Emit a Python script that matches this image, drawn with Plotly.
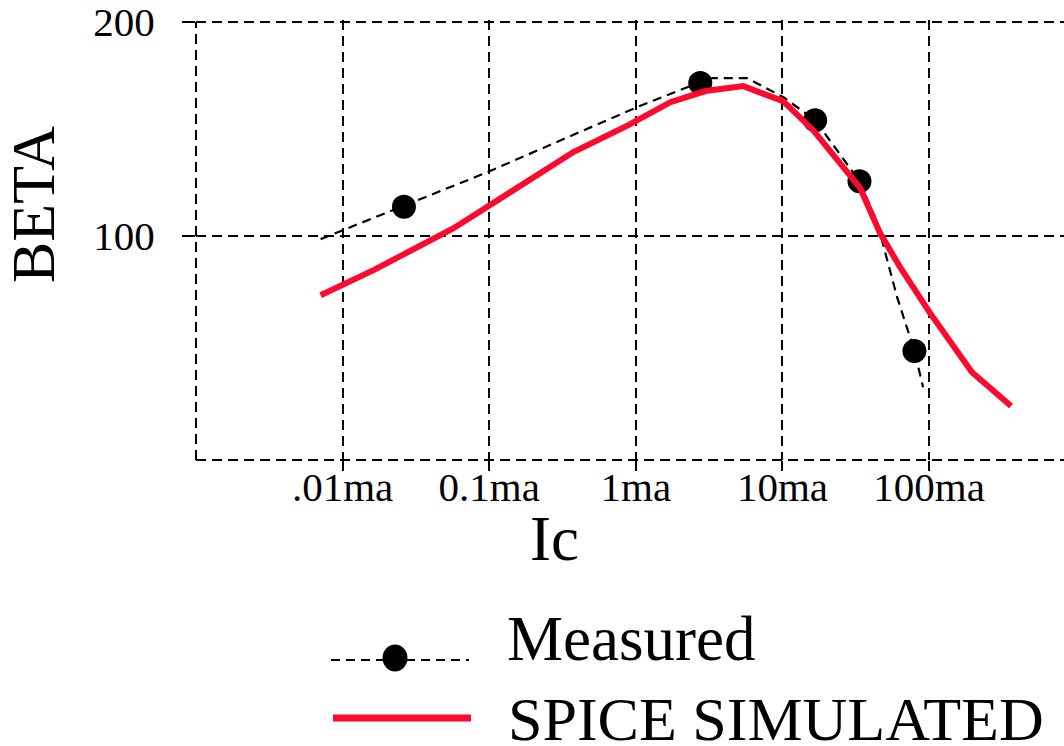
import plotly.graph_objects as go

# ---- data (Ic in mA, BETA) ----
measured_ic = [0.0262, 2.75, 16.7, 33.5, 79.4]
measured_beta = [113.7, 171.6, 154.2, 125.7, 46.3]

fit_ic = [0.00708, 0.0973, 1.02, 2.75, 3.32, 5.75, 10.1, 16.7, 33.5, 44.2, 60.5, 79.4, 91.0]
fit_beta = [98.6, 129.9, 160.3, 172.0, 173.8, 173.8, 165.0, 154.2, 125.7, 106.5, 71.5, 46.3, 29.4]

spice_ic = [0.00708, 0.01625, 0.0571, 0.375, 0.889, 1.72, 2.98, 5.40, 10.1, 16.2,
            33.9, 46.3, 63.4, 101.6, 196, 362]
spice_beta = [72.4, 84.1, 103.7, 139.3, 151.9, 162.6, 167.8, 170.1, 163.1, 149.5,
              122.4, 101.4, 85.5, 64.0, 36.4, 20.6]

x_tickvals = [0.01, 0.1, 1, 10, 100]
x_ticktext = [".01ma", "0.1ma", "1ma", "10ma", "100ma"]
y_tickvals = [100, 200]
y_ticktext = ["100", "200"]
legend_labels = ["Measured", "SPICE SIMULATED"]

RED = "#ff0a2e"
FONT = "Liberation Serif"

W, H = 1064, 746
L, R, T, B = 196, 0, 20, 286
PW, PH = W - L - R, H - T - B


def px(x):
    return (x - L) / PW


def py(y):
    return (H - B - y) / PH


fig = go.Figure()
fig.add_trace(go.Scatter(x=fit_ic, y=fit_beta, mode="lines",
                         line=dict(color="black", width=2.2, dash="9px,6px"),
                         showlegend=False, hoverinfo="skip"))
fig.add_trace(go.Scatter(x=measured_ic, y=measured_beta, mode="markers",
                         marker=dict(color="black", size=24),
                         name=legend_labels[0], showlegend=False))
fig.add_trace(go.Scatter(x=spice_ic, y=spice_beta, mode="lines",
                         line=dict(color=RED, width=6),
                         name=legend_labels[1], showlegend=False))

grid = dict(showgrid=True, gridcolor="black", gridwidth=2, griddash="10px,6px",
            zeroline=False, showline=False, ticks="outside", tickcolor="black",
            tickwidth=2, ticklabeloverflow="allow")

fig.update_xaxes(type="log", range=[-3, 2.92], tickvals=x_tickvals, ticktext=x_ticktext,
                 ticklen=10, ticklabelstandoff=-19,
                 tickfont=dict(family=FONT, size=41, color="black"), **grid)
fig.update_yaxes(range=[-4.61, 201], tickvals=y_tickvals, ticktext=y_ticktext,
                 ticklen=13, ticklabelstandoff=19,
                 tickfont=dict(family=FONT, size=41, color="black"), **grid)

shapes = [
    dict(type="line", xref="paper", yref="paper", x0=0, x1=0, y0=0, y1=py(22),
         line=dict(color="black", width=2, dash="10px,6px"), layer="below"),
    dict(type="line", xref="paper", yref="paper", x0=0, x1=1, y0=0, y1=0,
         line=dict(color="black", width=2, dash="10px,6px"), layer="below"),
    # legend samples
    dict(type="line", xref="paper", yref="paper", x0=px(331), x1=px(469), y0=py(660), y1=py(660),
         line=dict(color="black", width=2.2, dash="9px,6px")),
    dict(type="circle", xref="paper", yref="paper", xsizemode="pixel", ysizemode="pixel",
         xanchor=px(395), yanchor=py(658), x0=-12.5, x1=12.5, y0=-13.5, y1=13.5,
         fillcolor="black", line=dict(color="black", width=0)),
    dict(type="line", xref="paper", yref="paper", x0=px(333), x1=px(471), y0=py(718), y1=py(718),
         line=dict(color=RED, width=7)),
]

annotations = [
    dict(text="BETA", xref="paper", yref="paper", x=px(33), y=py(205), textangle=-90,
         showarrow=False, xanchor="center", yanchor="middle",
         font=dict(family=FONT, size=62, color="black")),
    dict(text="Ic", xref="paper", yref="paper", x=px(554), y=py(539),
         showarrow=False, xanchor="center", yanchor="middle",
         font=dict(family=FONT, size=63, color="black")),
    dict(text=legend_labels[0], xref="paper", yref="paper", x=px(505), y=py(639),
         showarrow=False, xanchor="left", yanchor="middle",
         font=dict(family=FONT, size=63, color="black")),
    dict(text=legend_labels[1], xref="paper", yref="paper", x=px(507), y=py(719),
         showarrow=False, xanchor="left", yanchor="middle", borderpad=0,
         font=dict(family=FONT, size=62, color="black")),
]

fig.update_layout(width=W, height=H, margin=dict(l=L, r=R, t=T, b=B, pad=0),
                  plot_bgcolor="white", paper_bgcolor="white",
                  shapes=shapes, annotations=annotations, showlegend=False)

fig.write_html("out.html", config={"displayModeBar": False},
               post_script="document.body.style.margin='0';document.body.style.overflow='hidden';")
